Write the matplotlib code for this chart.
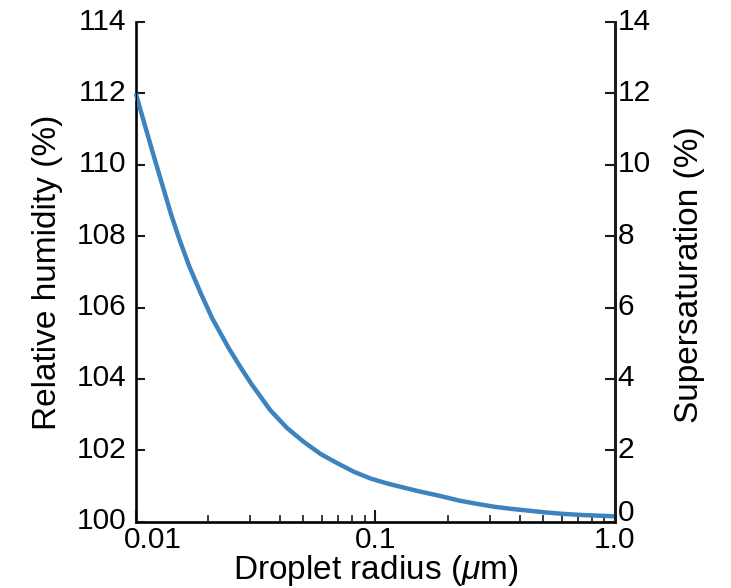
import matplotlib
matplotlib.use("Agg")
import matplotlib.pyplot as plt
import matplotlib.transforms as mtransforms
from matplotlib.ticker import FixedLocator, FixedFormatter, LogLocator, NullFormatter

# valores (radio en um, humedad relativa en %)
radio = [0.0100, 0.0101, 0.0109, 0.0118, 0.0130, 0.0140, 0.0152, 0.0167, 0.0187,
         0.0208, 0.0244, 0.0276, 0.0304, 0.0364, 0.0428, 0.0501, 0.0589, 0.0692,
         0.0812, 0.0953, 0.112, 0.132, 0.154, 0.181, 0.224, 0.265, 0.312, 0.368,
         0.434, 0.512, 0.604, 0.712, 0.840, 1.0]
humedad = [112.0, 111.88, 111.1, 110.3, 109.35, 108.62, 107.9, 107.15, 106.38,
           105.70, 104.86, 104.28, 103.85, 103.12, 102.62, 102.24, 101.90, 101.64,
           101.40, 101.21, 101.07, 100.95, 100.84, 100.74, 100.59, 100.50, 100.42, 100.36,
           100.31, 100.26, 100.22, 100.19, 100.17, 100.15]

x_ticks = [0.01, 0.1, 1.0]
x_labels = ["0.01", "0.1", "1.0"]
y_ticks = [100, 102, 104, 106, 108, 110, 112, 114]
s_ticks = [0, 2, 4, 6, 8, 10, 12, 14]

plt.rcParams["font.family"] = ["Liberation Sans", "DejaVu Sans"]
plt.rcParams["mathtext.fontset"] = "custom"
plt.rcParams["mathtext.it"] = "Liberation Sans:italic"
plt.rcParams["mathtext.rm"] = "Liberation Sans"

COLOR_CURVA = "#3d83be"
NEGRO = "#1a1a1a"
TAM_TICKS = 21.5
TAM_LABEL = 24

fig = plt.figure(figsize=(7.31, 5.88), dpi=100)
ax = fig.add_axes([0.186, 0.1128, 0.6553, 0.8498])

ax.plot(radio, humedad, color=COLOR_CURVA, linewidth=3.2, solid_capstyle="butt",
        clip_on=False, zorder=3)

ax.set_xscale("log")
ax.set_xlim(0.01, 1.0)
ax.set_ylim(100, 114)

ax.xaxis.set_major_locator(FixedLocator(x_ticks))
ax.xaxis.set_major_formatter(FixedFormatter(x_labels))
ax.xaxis.set_minor_locator(LogLocator(base=10, subs=range(2, 10)))
ax.xaxis.set_minor_formatter(NullFormatter())
ax.set_yticks(y_ticks)

ax.spines["top"].set_visible(False)
for lado in ["left", "right", "bottom"]:
    ax.spines[lado].set_linewidth(2)
    ax.spines[lado].set_color(NEGRO)

ax.tick_params(axis="y", which="major", direction="in", length=6.5, width=1.5,
               labelsize=TAM_TICKS, color=NEGRO, pad=7)
ax.tick_params(axis="x", which="major", direction="in", length=8.5, width=1.5,
               labelsize=TAM_TICKS, color=NEGRO, pad=3)
ax.tick_params(axis="x", which="minor", direction="in", length=5, width=1.2, color=NEGRO)

ax.set_xlabel(r"Droplet radius ($\mu$m)", fontsize=TAM_LABEL)
ax.xaxis.set_label_coords(0.5, -0.063)
ax.set_ylabel("Relative humidity (%)", fontsize=TAM_LABEL)
ax.yaxis.set_label_coords(-0.152, 0.5)

# eje derecho: supersaturacion
ax2 = ax.twinx()
ax2.set_ylim(0, 14)
ax2.set_yticks(s_ticks)
ax2.spines["top"].set_visible(False)
ax2.spines["right"].set_linewidth(2)
ax2.spines["right"].set_color(NEGRO)
ax2.tick_params(axis="y", direction="in", length=7.5, width=1.5, labelsize=TAM_TICKS,
                pad=2, color=NEGRO)
ax2.set_ylabel("Supersaturation (%)", fontsize=TAM_LABEL)
ax2.yaxis.set_label_coords(1.123, 0.494)

# pequenos ajustes de posicion de etiquetas, como en la figura original
subir = mtransforms.ScaledTranslation(0, 2.5 / 72, fig.dpi_scale_trans)
for t in ax.yaxis.get_major_ticks():
    t.label1.set_transform(t.label1.get_transform() + subir)
for t in ax2.yaxis.get_major_ticks():
    t.label2.set_transform(t.label2.get_transform() + subir)
cero = ax2.yaxis.get_major_ticks()[0].label2
cero.set_transform(cero.get_transform() + mtransforms.ScaledTranslation(0, 6 / 72, fig.dpi_scale_trans))
primera = ax.xaxis.get_major_ticks()[0].label1
primera.set_transform(primera.get_transform() + mtransforms.ScaledTranslation(12 / 72, 0, fig.dpi_scale_trans))

fig.savefig("out.png", dpi=100)
